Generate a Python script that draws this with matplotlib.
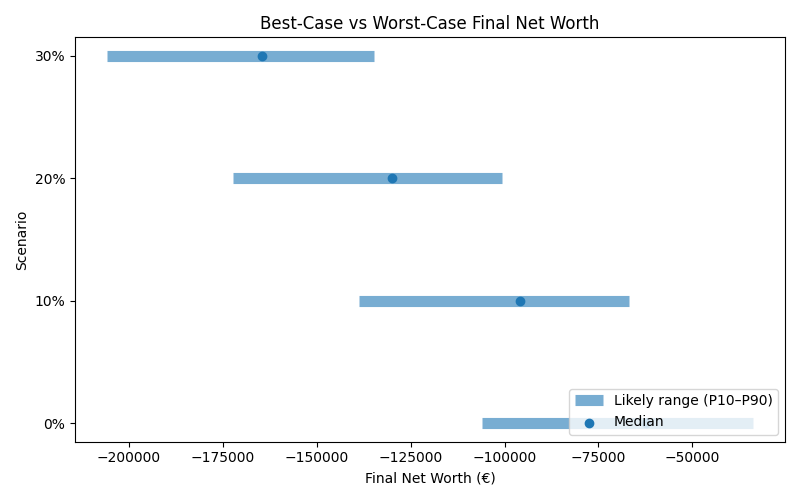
import matplotlib
matplotlib.use("Agg")
import matplotlib.pyplot as plt

# Scenario data
scenarios = ["0%", "10%", "20%", "30%"]
p10 = [-106100, -138800, -172300, -205800]
p90 = [-33900, -66900, -100800, -134800]
medians = [-62300, -96000, -130100, -164500]

fig, ax = plt.subplots(figsize=(8, 5), dpi=100)
ypos = list(range(len(scenarios)))

ax.hlines(ypos, p10, p90, linewidth=8, alpha=0.6, color="tab:blue", label="Likely range (P10–P90)")
ax.scatter(medians, ypos, color="tab:blue", zorder=3, label="Median")

ax.set_yticks(ypos)
ax.set_yticklabels(scenarios)
ax.set_xlabel("Final Net Worth (€)")
ax.set_ylabel("Scenario")
ax.set_title("Best-Case vs Worst-Case Final Net Worth")
ax.legend(loc="lower right")

fig.tight_layout()
fig.savefig("out.png", dpi=100)
